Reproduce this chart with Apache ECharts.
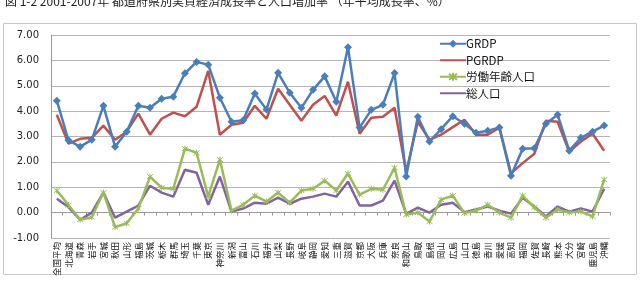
<!DOCTYPE html>
<html>
<head>
<meta charset="utf-8">
<script src="https://cdn.jsdelivr.net/npm/echarts@6/dist/echarts.min.js"></script>
<style>
  html, body { margin: 0; padding: 0; background: #fff; }
  #chart { width: 641px; height: 286px; }
</style>
</head>
<body>
<div id="chart"></div>
<script>
// 都道府県 (全国平均を先頭に)
const prefectures = ['全国平均', '北海道', '青森', '岩手', '宮城', '秋田', '山形', '福島', '茨城', '栃木',
  '群馬', '埼玉', '千葉', '東京', '神奈川', '新潟', '富山', '石川', '福井', '山梨',
  '長野', '岐阜', '静岡', '愛知', '三重', '滋賀', '京都', '大阪', '兵庫', '奈良',
  '和歌山', '鳥取', '島根', '岡山', '広島', '山口', '徳島', '香川', '愛媛', '高知',
  '福岡', '佐賀', '長崎', '熊本', '大分', '宮崎', '鹿児島', '沖縄'];

const grdp = [4.41, 2.85, 2.6, 2.87, 4.21, 2.6, 3.19, 4.21, 4.13, 4.49,
  4.57, 5.49, 5.94, 5.83, 4.53, 3.58, 3.64, 4.69, 4.06, 5.51,
  4.72, 4.13, 4.84, 5.37, 4.37, 6.52, 3.35, 4.05, 4.25, 5.5,
  1.42, 3.78, 2.8, 3.29, 3.8, 3.5, 3.15, 3.23, 3.35, 1.45,
  2.52, 2.54, 3.5, 3.86, 2.44, 2.95, 3.19, 3.43];

const pgrdp = [3.86, 2.72, 2.91, 2.95, 3.43, 2.87, 3.19, 3.9, 3.07, 3.7,
  3.94, 3.8, 4.17, 5.59, 3.07, 3.46, 3.54, 4.21, 3.7, 4.88,
  4.25, 3.62, 4.25, 4.6, 3.82, 5.16, 3.11, 3.74, 3.78, 4.13,
  1.61, 3.58, 2.87, 3.07, 3.37, 3.66, 3.07, 3.07, 3.35, 1.55,
  1.95, 2.32, 3.62, 3.58, 2.4, 2.8, 3.11, 2.44];

const workingAgePop = [0.87, 0.3, -0.28, -0.18, 0.79, -0.57, -0.42, 0.16, 1.42, 0.98,
  0.94, 2.52, 2.36, 0.63, 2.09, 0.08, 0.31, 0.67, 0.43, 0.79,
  0.39, 0.87, 0.94, 1.26, 0.87, 1.54, 0.71, 0.94, 0.9, 1.77,
  -0.08, 0.0, -0.35, 0.51, 0.67, -0.02, 0.08, 0.31, 0.0, -0.2,
  0.67, 0.2, -0.2, 0.12, 0.0, 0.04, -0.15, 1.3];

const totalPop = [0.55, 0.22, -0.28, 0.0, 0.79, -0.2, 0.04, 0.28, 1.06, 0.79,
  0.63, 1.69, 1.57, 0.31, 1.42, 0.04, 0.16, 0.39, 0.35, 0.59,
  0.35, 0.55, 0.63, 0.75, 0.63, 1.22, 0.28, 0.28, 0.47, 1.26,
  -0.05, 0.2, 0.0, 0.31, 0.39, 0.02, 0.12, 0.24, 0.08, -0.04,
  0.59, 0.24, -0.15, 0.24, 0.04, 0.16, 0.04, 0.94];

const chart = echarts.init(document.getElementById('chart'));

const option = {
  animation: false,
  textStyle: { fontFamily: '"Noto Sans CJK JP", "DejaVu Sans", sans-serif' },
  title: {
    text: '図 1-2 2001-2007年 都道府県別実質経済成長率と人口増加率 （年平均成長率、%）',
    left: 0,
    top: -10,
    textStyle: { fontSize: 12, fontWeight: 'normal', color: '#222' }
  },
  graphic: [{
    type: 'rect',
    shape: { x: 3.5, y: 23.5, width: 633, height: 251 },
    style: { fill: 'none', stroke: '#c8c8c8', lineWidth: 1 },
    z: -1
  }],
  legend: {
    orient: 'vertical',
    left: 434,
    top: 33,
    itemGap: 5,
    itemWidth: 26,
    itemHeight: 10,
    data: [
      { name: 'GRDP' },
      { name: 'PGRDP', itemStyle: { opacity: 0 } },
      { name: '労働年齢人口' },
      { name: '総人口', itemStyle: { opacity: 0 } }
    ],
    textStyle: { fontSize: 11.5, color: '#111', padding: [0, 0, 0, -5] }
  },
  grid: { left: 51, right: 31, top: 35, bottom: 48 },
  xAxis: {
    type: 'category',
    data: prefectures,
    boundaryGap: true,
    axisLine: { onZero: true, lineStyle: { color: '#999' } },
    axisTick: { show: true, length: 3, lineStyle: { color: '#999' } },
    axisLabel: {
      interval: 0,
      rotate: 90,
      fontSize: 8.5,
      color: '#111',
      margin: 4
    }
  },
  yAxis: {
    type: 'value',
    min: -1,
    max: 7,
    interval: 1,
    axisLine: { show: true, lineStyle: { color: '#999' } },
    axisTick: { show: false },
    splitLine: { lineStyle: { color: '#b4b4b4' } },
    axisLabel: {
      formatter: (v) => v.toFixed(2),
      fontSize: 10,
      fontFamily: '"DejaVu Sans", sans-serif',
      color: '#222',
      margin: 12
    }
  },
  series: [
    {
      name: 'GRDP', type: 'line', data: grdp,
      symbol: 'diamond', symbolSize: 8,
      itemStyle: { color: '#4a7ebb' },
      lineStyle: { width: 2.5, color: '#4a7ebb' },
      z: 4
    },
    {
      name: 'PGRDP', type: 'line', data: pgrdp,
      symbol: 'none',
      itemStyle: { color: '#c0504d' },
      lineStyle: { width: 2.5, color: '#c0504d' },
      z: 3
    },
    {
      name: '労働年齢人口', type: 'line', data: workingAgePop,
      symbol: 'path://M-1,-1L1,1M-1,1L1,-1M0,-1.3L0,1.3', symbolSize: 6,
      itemStyle: { color: '#9bbb59', borderColor: '#9bbb59', borderWidth: 1 },
      lineStyle: { width: 2.5, color: '#9bbb59' },
      z: 2
    },
    {
      name: '総人口', type: 'line', data: totalPop,
      symbol: 'none',
      itemStyle: { color: '#8064a2' },
      lineStyle: { width: 2.5, color: '#8064a2' },
      z: 1
    }
  ]
};

chart.setOption(option);
</script>
</body>
</html>
